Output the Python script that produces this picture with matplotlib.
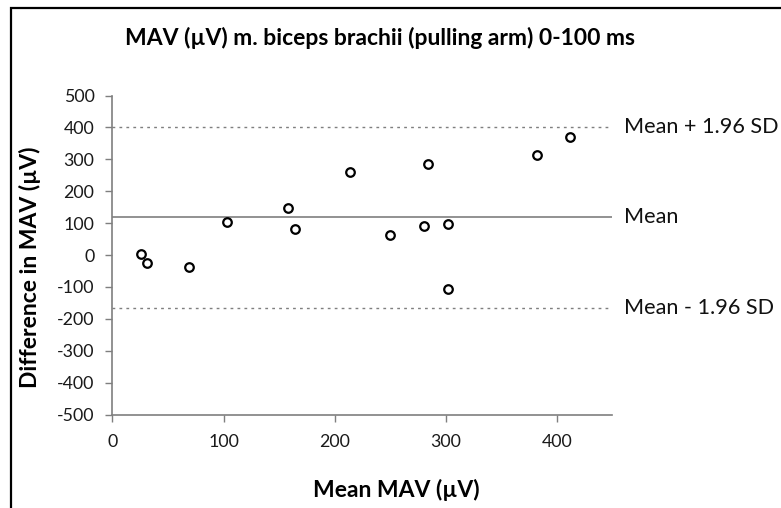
import matplotlib
matplotlib.use("Agg")
import matplotlib.pyplot as plt
from matplotlib.patches import Rectangle

plt.rcParams['font.family'] = ['Lato', 'DejaVu Sans']
plt.rcParams['axes.unicode_minus'] = False

mean_mav = [25.7, 31.1, 69.2, 102.9, 158.4, 164.4, 214.0, 250.0, 280.3, 284.0,
            302.5, 302.5, 381.8, 411.9]
diff_mav = [2, -24, -37, 104, 147, 81, 259, 63, 90, 286, 96, -107, 313, 371]
mean_line = 118
upper_loa = 402
lower_loa = -166
line_labels = ["Mean + 1.96 SD", "Mean", "Mean - 1.96 SD"]
x_ticks = [0, 100, 200, 300, 400]
y_ticks = [500, 400, 300, 200, 100, 0, -100, -200, -300, -400, -500]

fig = plt.figure(figsize=(7.81, 5.08), dpi=100)
ax = fig.add_axes([0.144, 0.184, 0.640, 0.628])

gray = '#7f7f7f'
ax.axhline(upper_loa, color=gray, lw=1.0, ls=(0, (2, 3)))
ax.axhline(lower_loa, color=gray, lw=1.0, ls=(0, (2, 3)))
ax.axhline(mean_line, color=gray, lw=1.2)

ax.scatter(mean_mav, diff_mav, s=38, facecolors='white', edgecolors='black',
           linewidths=1.6, zorder=3)

ax.set_xlim(0, 450)
ax.set_ylim(-500, 500)
ax.set_xticks(x_ticks)
ax.set_yticks(y_ticks)
for s in ['top', 'right']:
    ax.spines[s].set_visible(False)
for s in ['left', 'bottom']:
    ax.spines[s].set_color(gray)
    ax.spines[s].set_linewidth(1.2)
ax.tick_params(axis='both', colors=gray, labelcolor='#1a1a1a', labelsize=12.8,
               length=5, width=1.0, direction='out')
ax.tick_params(axis='x', pad=9)
ax.tick_params(axis='y', pad=8)

for val, lab in zip([upper_loa, mean_line, lower_loa], line_labels):
    ax.annotate(lab, xy=(1.0, val), xycoords=('axes fraction', 'data'),
                xytext=(8.5, 0), textcoords='offset points', va='center',
                ha='left', fontsize=15.6, color='#111111', annotation_clip=False)

fig.text(0.486, 0.925, "MAV (µV) m. biceps brachii (pulling arm) 0-100 ms",
         ha='center', va='center', fontsize=16.5, fontweight='bold')
fig.text(0.507, 0.035, "Mean MAV (µV)", ha='center', va='center',
         fontsize=16.5, fontweight='bold')
fig.text(0.038, 0.474, "Difference in MAV (µV)", ha='center', va='center',
         rotation=90, fontsize=16.5, fontweight='bold')

fig.patches.append(Rectangle((11 / 781, -0.1), 1.2, 1.1 - 8 / 508,
                             transform=fig.transFigure, fill=False,
                             edgecolor='black', linewidth=1.6))

fig.savefig("out.png", dpi=100)
